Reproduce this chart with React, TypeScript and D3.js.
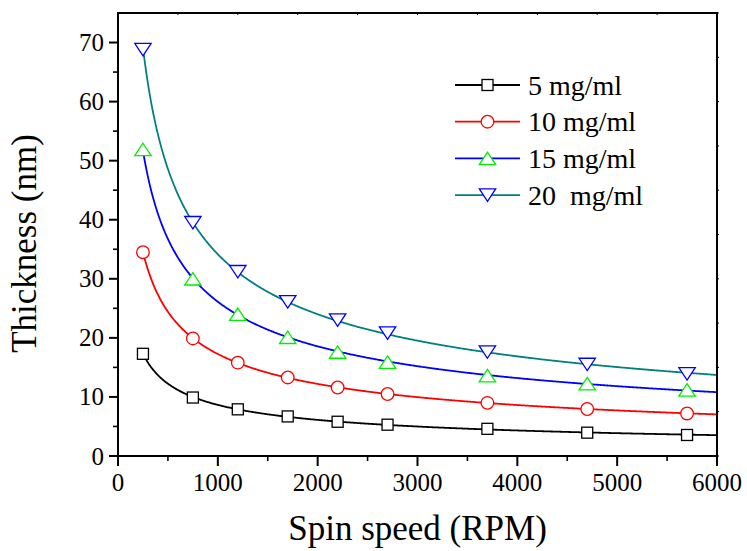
import React from "react";
import * as d3 from "d3";

// Spin speeds (RPM) at which film thickness was measured
const speeds = [250, 750, 1200, 1700, 2200, 2700, 3700, 4700, 5700];

// Thickness (nm) for each solution concentration
const thick5 = [17.3, 9.9, 7.9, 6.7, 5.8, 5.3, 4.6, 3.95, 3.56];
const thick10 = [34.5, 19.9, 15.8, 13.3, 11.6, 10.5, 9.0, 7.96, 7.2];
const thick15 = [51.9, 30.0, 24.0, 20.1, 17.6, 15.9, 13.6, 12.25, 11.2];
const thick20 = [68.8, 39.5, 31.2, 26.1, 23.0, 20.8, 17.6, 15.5, 13.9];

const seriesLabels = ["5 mg/ml", "10 mg/ml", "15 mg/ml", "20  mg/ml"];
const xTicks = [0, 1000, 2000, 3000, 4000, 5000, 6000];
const yTicks = [0, 10, 20, 30, 40, 50, 60, 70];

type Shape = "square" | "circle" | "up" | "down";
interface Series {
  label: string;
  values: number[];
  line: string;
  marker: string;
  shape: Shape;
}

const series: Series[] = [
  { label: seriesLabels[0], values: thick5, line: "#000000", marker: "#000000", shape: "square" },
  { label: seriesLabels[1], values: thick10, line: "#ff0000", marker: "#ff0000", shape: "circle" },
  { label: seriesLabels[2], values: thick15, line: "#0000ff", marker: "#00ee00", shape: "up" },
  { label: seriesLabels[3], values: thick20, line: "#008080", marker: "#0000ff", shape: "down" },
];

const W = 747;
const H = 551;
const left = 118;
const right = 717;
const top = 13;
const bottom = 456;
const FONT = "'Liberation Serif', 'Times New Roman', serif";

const x = d3.scaleLinear().domain([0, 6000]).range([left, right]);
const y = d3.scaleLinear().domain([0, 75]).range([bottom, top]);

// Least-squares power-law fit (log-log) used for the smooth trend curves
function powerFit(xs: number[], ys: number[]) {
  const lx = xs.map(Math.log);
  const ly = ys.map(Math.log);
  const mx = d3.mean(lx)!;
  const my = d3.mean(ly)!;
  let num = 0;
  let den = 0;
  lx.forEach((v, i) => {
    num += (v - mx) * (ly[i] - my);
    den += (v - mx) * (v - mx);
  });
  const b = num / den;
  const a = Math.exp(my - b * mx);
  return (v: number) => a * Math.pow(v, b);
}

function Marker({ shape, cx, cy, color }: { shape: Shape; cx: number; cy: number; color: string }) {
  const common = { fill: "#ffffff", stroke: color, strokeWidth: 1.3 };
  if (shape === "square") {
    const s = 11;
    return <rect x={cx - s / 2} y={cy - s / 2} width={s} height={s} {...common} />;
  }
  if (shape === "circle") {
    return <circle cx={cx} cy={cy} r={6.3} {...common} />;
  }
  const hw = 8.2;
  const hh = 6.2;
  const pts =
    shape === "up"
      ? [[cx, cy - hh], [cx + hw, cy + hh], [cx - hw, cy + hh]]
      : [[cx, cy + hh], [cx + hw, cy - hh], [cx - hw, cy - hh]];
  return <polygon points={pts.map((p) => p.join(",")).join(" ")} {...common} />;
}

export default function App() {
  const line = d3
    .line<[number, number]>()
    .x((d) => x(d[0]))
    .y((d) => y(d[1]))
    .curve(d3.curveMonotoneX);

  const curveXs = d3.range(speeds[0], 6000 + 1, 10);

  const xMinor = d3.range(500, 6000, 1000);
  const yMinor = d3.range(5, 75, 10);
  const topTicks = d3.range(0, 6001, 600);
  const rightTicks = d3.range(0, 75.01, 7.5);

  const legendX0 = 455;
  const legendX1 = 520;
  const legendY0 = 85;
  const legendDy = 36.7;

  return (
    <svg
      width={W}
      height={H}
      style={{ position: "absolute", left: 0, top: 0, background: "#ffffff" }}
      fontFamily={FONT}
    >
      {/* fitted curves */}
      {series.map((s) => {
        const f = powerFit(speeds, s.values);
        const pts = curveXs.map((v) => [v, f(v)] as [number, number]);
        return <path key={s.label + "-curve"} d={line(pts) ?? ""} fill="none" stroke={s.line} strokeWidth={1.8} />;
      })}

      {/* measured points */}
      {series.map((s) =>
        s.values.map((v, i) => (
          <Marker key={s.label + i} shape={s.shape} cx={x(speeds[i])} cy={y(v)} color={s.marker} />
        ))
      )}

      {/* frame */}
      <rect x={left} y={top} width={right - left} height={bottom - top} fill="none" stroke="#000" strokeWidth={2} />

      {/* bottom axis ticks */}
      {xTicks.map((t) => (
        <g key={"xt" + t}>
          <line x1={x(t)} x2={x(t)} y1={bottom} y2={bottom + 10} stroke="#000" strokeWidth={2} />
          <text x={x(t)} y={491} textAnchor="middle" fontSize={25}>
            {t}
          </text>
        </g>
      ))}
      {xMinor.map((t) => (
        <line key={"xm" + t} x1={x(t)} x2={x(t)} y1={bottom} y2={bottom + 5} stroke="#000" strokeWidth={1.6} />
      ))}

      {/* left axis ticks */}
      {yTicks.map((t) => (
        <g key={"yt" + t}>
          <line x1={left - 9} x2={left} y1={y(t)} y2={y(t)} stroke="#000" strokeWidth={2} />
          <text x={104} y={y(t)} textAnchor="end" dominantBaseline="central" fontSize={25}>
            {t}
          </text>
        </g>
      ))}
      {yMinor.map((t) => (
        <line key={"ym" + t} x1={left - 5} x2={left} y1={y(t)} y2={y(t)} stroke="#000" strokeWidth={1.6} />
      ))}

      {/* small ticks on top and right edges */}
      {topTicks.map((t) => (
        <line key={"tt" + t} x1={x(t)} x2={x(t)} y1={top} y2={top + 2} stroke="#000" strokeWidth={1} />
      ))}
      {rightTicks.map((t) => (
        <line key={"rt" + t} x1={right} x2={right + 2} y1={y(t)} y2={y(t)} stroke="#000" strokeWidth={1} />
      ))}

      {/* axis titles */}
      <text x={(left + right) / 2} y={540} textAnchor="middle" fontSize={35}>
        Spin speed (RPM)
      </text>
      <text
        transform={`translate(36, ${(top + bottom) / 2 + 9}) rotate(-90)`}
        textAnchor="middle"
        fontSize={35}
      >
        Thickness (nm)
      </text>

      {/* legend */}
      {series.map((s, i) => {
        const ly = legendY0 + i * legendDy;
        return (
          <g key={s.label + "-legend"}>
            <line x1={legendX0} x2={legendX1} y1={ly} y2={ly} stroke={s.line} strokeWidth={1.8} />
            <Marker shape={s.shape} cx={(legendX0 + legendX1) / 2} cy={ly} color={s.marker} />
            <text x={528} y={ly} dominantBaseline="central" fontSize={28} style={{ whiteSpace: "pre" }}>
              {s.label}
            </text>
          </g>
        );
      })}
    </svg>
  );
}
